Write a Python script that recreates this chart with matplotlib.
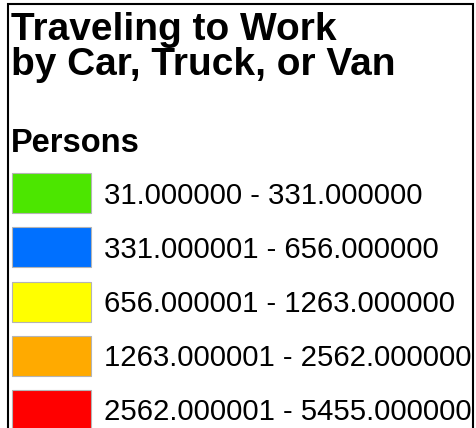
import matplotlib
matplotlib.use("Agg")
import matplotlib.pyplot as plt

title_lines = ["Traveling to Work", "by Car, Truck, or Van"]
field_name = "Persons"
class_labels = [
    "31.000000 - 331.000000",
    "331.000001 - 656.000000",
    "656.000001 - 1263.000000",
    "1263.000001 - 2562.000000",
    "2562.000001 - 5455.000000",
]
class_colors = ["#4CE600", "#0070FF", "#FFFF00", "#FFAA00", "#FF0000"]

W, H = 477, 428
fig = plt.figure(figsize=(W / 100, H / 100), dpi=100)
ax = fig.add_axes([0, 0, 1, 1])
ax.set_xlim(0, W)
ax.set_ylim(H, 0)
ax.axis("off")

font = "Liberation Sans"

# frame (open at the bottom)
ax.plot([8.5, 8.5, 473.5, 473.5], [H + 5, 3.5, 3.5, H + 5], color="black",
        lw=1.5, solid_joinstyle="miter", clip_on=False)

# title
for i, line in enumerate(title_lines):
    ax.text(11, 39.5 + 35 * i, line, fontsize=28, fontweight="bold",
            family=font, va="baseline", ha="left")

ax.text(11, 152, field_name, fontsize=23.5, fontweight="bold",
        family=font, va="baseline", ha="left")

# swatches
first_center = 193
step = 54.25
centers = [first_center + step * i for i in range(len(class_labels))]
ax.barh(centers, [79] * len(centers), left=12, height=40,
        color=class_colors, edgecolor="#B4B4B4", linewidth=0.8)

for c, lab in zip(centers, class_labels):
    ax.text(104, c + 10.5, lab, fontsize=21.2, family=font,
            va="baseline", ha="left")

fig.savefig("out.png", dpi=100, facecolor="white")
